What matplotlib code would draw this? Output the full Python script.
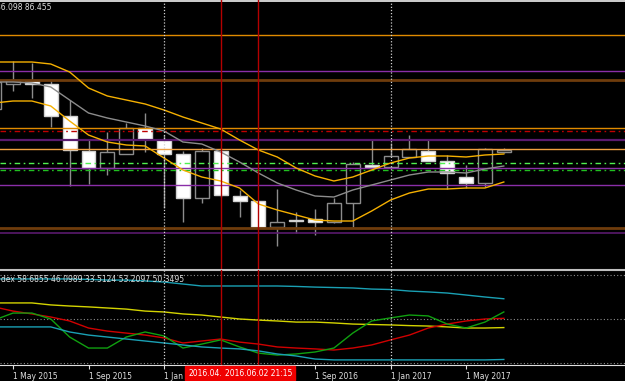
import matplotlib
matplotlib.use("Agg")
import matplotlib.pyplot as plt
import matplotlib.transforms as mtransforms
import numpy as np
import pandas as pd

# monthly bars, Apr 2015 .. Jul 2017
months = list(pd.period_range("2015-04", periods=28, freq="M").strftime("%Y-%m"))

# candles (chart price units)
opens = [161, 186, 189, 186, 154, 119, 102, 116, 142, 130, 116, 72, 119, 74,
         69, 43, 50, 51, 48, 67, 105, 103, 113, 119, 109, 93, 87, 118]
highs = [195, 209, 207, 190, 170, 130, 138, 147, 157, 135, 119, 122, 122, 80,
         69, 81, 58, 61, 72, 108, 130, 127, 135, 130, 115, 105, 122, 122]
lows = [158, 179, 172, 143, 84, 86, 95, 116, 118, 62, 48, 67, 73, 53,
        42, 24, 37, 35, 47, 43, 102, 102, 113, 109, 81, 82, 83, 117]
closes = [188, 190, 186, 154, 120, 102, 118, 142, 131, 116, 72, 119, 75, 69,
          43, 48, 49, 48, 67, 106, 103, 114, 121, 109, 97, 87, 121, 120]

# bollinger bands
bb_upper = [208, 208, 208, 206, 198, 182, 174, 170, 166, 160, 153, 147, 141, 130,
            120, 113, 102, 94, 89, 93, 100, 107, 112, 114, 114, 113, 115, 116]
bb_middle = [188, 188, 187, 183, 170, 157, 152, 148, 144, 139, 128, 126, 118, 108,
             97, 87, 80, 74, 73, 80, 85, 90, 95, 98, 98, 97, 101, 104]
bb_lower = [167, 169, 169, 164, 149, 135, 128, 125, 124, 112, 100, 93, 89, 82,
            66, 60, 55, 50, 49, 49, 59, 70, 77, 81, 81, 82, 82, 88]

# horizontal levels drawn on the price panel
levels = [269, 235, 199, 190, 142, 139, 130, 121, 107, 102.5, 100, 85, 42, 37]

# lower indicator panel
ind_cyan_top = [68.2, 68.2, 68.2, 68.2, 68.2, 68.0, 67.7, 67.7, 67.3, 66.8, 65.9, 65.0, 65.0, 65.0,
                65.0, 65.0, 64.8, 64.5, 64.3, 64.1, 63.6, 63.4, 62.7, 62.3, 61.8, 60.9, 60.0, 59.2]
ind_yellow = [57.3, 57.3, 57.3, 56.4, 55.9, 55.5, 55.0, 54.5, 53.6, 53.2, 52.3, 51.8, 50.9, 50.0,
              49.5, 49.1, 48.6, 48.6, 48.2, 47.7, 47.5, 47.3, 47.0, 46.8, 46.4, 45.9, 45.9, 46.1]
ind_red = [55.5, 53.6, 52.3, 50.9, 49.1, 45.9, 44.5, 43.6, 42.7, 41.4, 39.1, 40.0, 40.9, 39.5,
           38.6, 37.3, 36.8, 36.4, 35.9, 36.8, 38.2, 40.5, 42.7, 45.9, 47.7, 49.1, 50.0, 50.3]
ind_green = [49.5, 52.7, 52.7, 50.0, 41.8, 36.8, 36.8, 41.8, 44.1, 42.3, 36.8, 38.6, 40.5, 37.3,
             34.5, 33.6, 34.1, 35.0, 36.8, 43.6, 49.1, 50.5, 51.8, 51.4, 47.7, 45.9, 48.6, 53.2]
ind_cyan_low = [46.4, 46.4, 46.4, 46.4, 44.1, 42.7, 41.8, 40.9, 40.0, 39.1, 38.2, 37.3, 36.8, 36.4,
                35.5, 34.1, 33.2, 31.8, 31.4, 31.4, 31.4, 31.4, 31.4, 31.4, 31.4, 31.4, 31.4, 31.6]
ind_levels = [30, 50, 70]

tick_months = ["2015-05", "2015-09", "2016-01", "2016-05", "2016-09", "2017-01", "2017-05"]
tick_labels = ["1 May 2015", "1 Sep 2015", "1 Jan", "",
               "1 Sep 2016", "1 Jan 2017", "1 May 2017"]
year_breaks = ["2016-01", "2017-01"]
marker_months = ["2016-04", "2016-06"]
marker_labels = ["2016.04.", "2016.06.02 21:15"]
price_text = "86.098 86.455"
ind_text = "dex 58.6855 46.0989 33.5124 53.2097 50.3495"

plt.rcParams["font.family"] = "DejaVu Sans"
fig = plt.figure(figsize=(6.25, 3.81), dpi=100, facecolor="black")
ax = fig.add_axes([0, 111 / 381, 1, 270 / 381], facecolor="black")
ax2 = fig.add_axes([0, 16 / 381, 1, 95 / 381], facecolor="black")

x = np.arange(len(months))
o, h, l, c = map(np.array, (opens, highs, lows, closes))
bull = c >= o

# candles
ax.vlines(x, l, h, color="#8c8c8c", lw=1.0, zorder=1)
body = np.maximum(np.abs(c - o), 0.8)
ax.bar(x[bull], body[bull], bottom=np.minimum(o, c)[bull], width=0.74,
       color="black", edgecolor="#8c8c8c", linewidth=1.0, zorder=2)
ax.bar(x[~bull], body[~bull], bottom=np.minimum(o, c)[~bull], width=0.74,
       color="white", edgecolor="#d0d0d0", linewidth=1.0, zorder=2)

ax.plot(x, bb_upper, color="#f5b000", lw=1.0, zorder=4)
ax.plot(x, bb_middle, color="#8c8c8c", lw=1.0, zorder=4)
ax.plot(x, bb_lower, color="#f5b000", lw=1.0, zorder=4)

dashdot = (0, (4, 2.5, 1.2, 2.5))
level_styles = [
    ("#d0d0d0", 1.4, "-"),
    ("#e08a00", 1.0, "-"),
    ("#8a2ea8", 1.0, "-"),
    ("#6e3c0c", 2.0, "-"),
    ("#e08a00", 1.0, "-"),
    ("#c00000", 1.0, dashdot),
    ("#5a1a6e", 1.6, "-"),
    ("#f0a040", 1.0, "-"),
    ("#50f050", 1.0, dashdot),
    ("#8a2ea8", 1.0, "-"),
    ("#20c020", 1.0, dashdot),
    ("#8a2ea8", 1.0, "-"),
    ("#6e3c0c", 2.0, "-"),
    ("#5a1a6e", 1.2, "-"),
]
for lev, (col, lw, ls) in zip(levels, level_styles):
    ax.axhline(lev, color=col, lw=lw, ls=ls, zorder=3)

# indicator panel
for lev in ind_levels:
    ax2.axhline(lev, color="#8c8c8c", lw=0.8, ls=(0, (1, 2)), zorder=1)
ax2.plot(x, ind_cyan_top, color="#1aa0b4", lw=1.0, zorder=3)
ax2.plot(x, ind_yellow, color="#d4d400", lw=1.0, zorder=3)
ax2.plot(x, ind_red, color="#d00000", lw=1.0, zorder=3)
ax2.plot(x, ind_green, color="#10a010", lw=1.0, zorder=3)
ax2.plot(x, ind_cyan_low, color="#1aa0b4", lw=1.0, zorder=3)

for a in (ax, ax2):
    for m in year_breaks:
        a.axvline(months.index(m), color="#d0d0d0", lw=0.9, ls=(0, (1, 1.5)), zorder=5)
    for m in marker_months:
        a.axvline(months.index(m), color="#b40000", lw=1.0, zorder=6)
    a.set_xlim(0.311, 33.42)

ax.set_ylim(0, 270)
ax.axis("off")

ax2.set_ylim(29.09, 72.27)
ax2.set_yticks([])
for side in ("left", "right"):
    ax2.spines[side].set_visible(False)
ax2.spines["top"].set_color("#c0c0c0")
ax2.spines["top"].set_linewidth(1.5)
ax2.spines["bottom"].set_color("#e0e0e0")
ax2.spines["bottom"].set_linewidth(0.8)
ax2.set_xticks([months.index(m) for m in tick_months])
ax2.set_xticklabels(tick_labels, ha="left")
ax2.tick_params(axis="x", colors="#e0e0e0", length=3, width=0.8, pad=2, labelsize=5.5)

# time labels of the two vertical marker lines
trans = mtransforms.blended_transform_factory(ax2.transData, ax2.transAxes)
first, second = marker_months
ax2.text(months.index(first) + 0.06, -0.085, marker_labels[0], transform=trans,
         ha="right", va="center", color="white", fontsize=5.5, zorder=10, clip_on=False,
         bbox=dict(boxstyle="square,pad=0.35", facecolor="#f00000", edgecolor="#f00000"))
ax2.text(months.index(second), -0.085, marker_labels[1], transform=trans,
         ha="center", va="center", color="white", fontsize=5.5, zorder=11, clip_on=False,
         bbox=dict(boxstyle="square,pad=0.35", facecolor="#f00000", edgecolor="#f00000"))

fig.text(-4 / 625, 1 - 7.5 / 381, price_text, color="#e0e0e0", fontsize=5.5, va="center")
fig.text(1 / 625, 1 - 279 / 381, ind_text, color="#e0e0e0", fontsize=5.5, va="center", zorder=20)

fig.savefig("out.png", dpi=100, facecolor="black")
